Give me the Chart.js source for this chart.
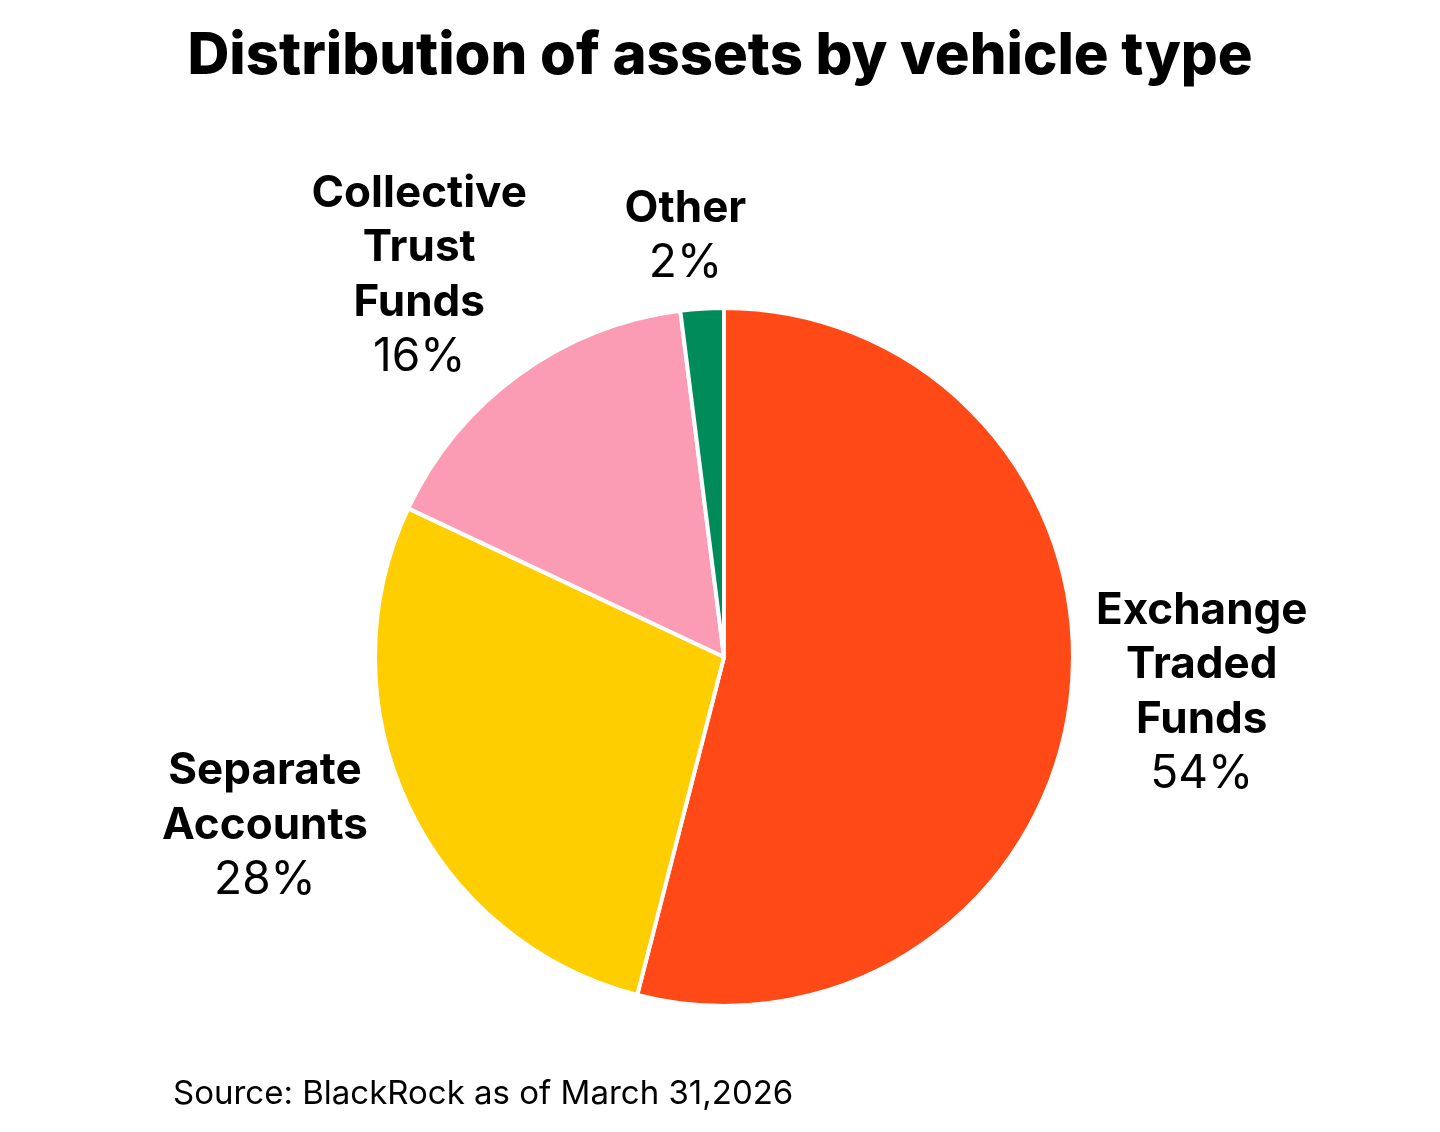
<!DOCTYPE html>
<html>
<head>
<meta charset="utf-8">
<script src="https://cdn.jsdelivr.net/npm/chart.js@4.4.1/dist/chart.umd.min.js"></script>
<style>
  html, body { margin: 0; padding: 0; background: #fff; }
  #wrap { width: 1440px; height: 1132px; }
</style>
</head>
<body>
<div id="wrap"><canvas id="myChart" width="1440" height="1132"></canvas></div>
<script>
// datos
const vehiculos = [['Exchange', 'Traded', 'Funds'], ['Separate', 'Accounts'], ['Collective', 'Trust', 'Funds'], ['Other']];
const porcentajes = [54, 28, 16, 2];
const colores = ['#FF4917', '#FFCE00', '#FC9CB4', '#008C5A'];

// where each label sits: distance as multiple of radius, and angle tweak in degrees
const labelDist = [1.372, 1.398, 1.406, 1.219];
const labelShift = [-3.35, 5.4, -2.4, -1.6];

const FONT = 'Inter, "Open Sans", sans-serif';

const textosPlugin = {
  id: 'textos',
  afterDraw(chart) {
    const c = chart.ctx;
    c.save();
    c.fillStyle = '#000';
    c.textAlign = 'center';
    c.textBaseline = 'middle';
    // titulo
    c.font = '800 58px ' + FONT;
    c.fillText('Distribution of assets by vehicle type', 720, 57);

    // etiquetas
    const arcs = chart.getDatasetMeta(0).data;
    arcs.forEach((arc, i) => {
      const p = arc.getProps(['x', 'y', 'startAngle', 'endAngle', 'outerRadius'], true);
      const mid = (p.startAngle + p.endAngle) / 2 + labelShift[i] * Math.PI / 180;
      const r = p.outerRadius * labelDist[i];
      const cx = p.x + Math.cos(mid) * r;
      const cy = p.y + Math.sin(mid) * r + 3;
      const lines = vehiculos[i].concat([porcentajes[i] + '%']);
      const lh = 54.5;
      let y = cy - (lines.length - 1) * lh / 2;
      lines.forEach((t, j) => {
        c.font = j === lines.length - 1 ? '400 46px ' + FONT : '700 44px ' + FONT;
        c.fillText(t, cx, y);
        y += lh;
      });
    });

    // fuente
    c.textAlign = 'left';
    c.font = '400 33px ' + FONT;
    c.fillText('Source: BlackRock as of March 31,2026', 173, 1094);
    c.restore();
  }
};

const ctx = document.getElementById('myChart');
new Chart(ctx, {
  type: 'pie',
  data: {
    labels: vehiculos.map(v => v.join(' ')),
    datasets: [{
      data: porcentajes,
      backgroundColor: colores,
      borderColor: '#ffffff',
      borderWidth: 4
    }]
  },
  options: {
    responsive: false,
    animation: false,
    layout: {
      padding: { left: 373, right: 365, top: 306, bottom: 124 }
    },
    plugins: {
      legend: { display: false },
      tooltip: { enabled: false }
    }
  },
  plugins: [textosPlugin]
});
</script>
</body>
</html>
